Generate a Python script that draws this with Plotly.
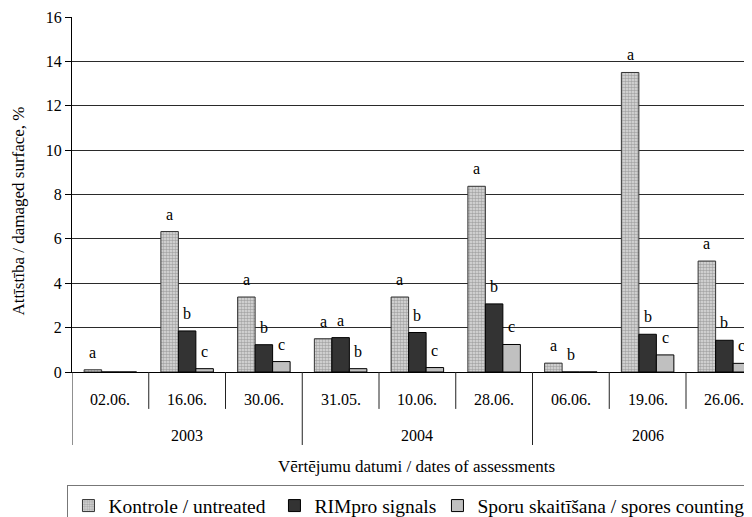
import plotly.graph_objects as go

dates = ["02.06.", "16.06.", "30.06.", "31.05.", "10.06.", "28.06.", "06.06.", "19.06.", "26.06."]
years = ["2003", "2004", "2006"]
dates_per_year = [3, 3, 3]
kontrole = [0.1, 6.33, 3.38, 1.5, 3.38, 8.37, 0.4, 13.5, 5.0]
rimpro = [0, 1.85, 1.23, 1.55, 1.78, 3.07, 0, 1.7, 1.43]
sporu = [0, 0.15, 0.47, 0.15, 0.2, 1.24, 0, 0.77, 0.39]
lab_k = ["a", "a", "a", "a", "a", "a", "a", "a", "a"]
lab_r = ["", "b", "b", "a", "b", "b", "b", "b", "b"]
lab_s = ["", "c", "c", "b", "c", "c", "", "c", "c"]
names = ["Kontrole / untreated", "RIMpro signals", "Sporu skaitīšana / spores counting"]
y_title = "Attīstība / damaged surface, %"
x_title = "Vērtējumu datumi / dates of assessments"

FONT = "Liberation Serif, Times New Roman, serif"
xs = list(range(len(dates)))
BW = 0.228

fig = go.Figure()
fig.add_trace(go.Bar(x=xs, y=kontrole, name=names[0], legendwidth=161,
                     marker=dict(color="#b0b0b0", line=dict(color="#333333", width=1),
                                 pattern=dict(shape=".", size=3, solidity=0.55, fgcolor="#6e6e6e", bgcolor="#dedede"))))
fig.add_trace(go.Bar(x=xs, y=rimpro, name=names[1], legendwidth=118,
                     marker=dict(color="#333333", line=dict(color="black", width=1))))
fig.add_trace(go.Bar(x=xs, y=sporu, name=names[2],
                     marker=dict(color="#c0c0c0", line=dict(color="black", width=1))))

ann = []
for series, labs, off in ((kontrole, lab_k, -BW), (rimpro, lab_r, 0), (sporu, lab_s, BW)):
    for i, (v, t) in enumerate(zip(series, labs)):
        if t:
            ann.append(dict(x=i + off, y=v, xref="x", yref="y", text=t, showarrow=False,
                            yanchor="bottom", yshift=7, font=dict(family=FONT, size=16, color="black")))

for i, d in enumerate(dates):
    ann.append(dict(x=i, y=-0.077, xref="x", yref="paper", text=d, showarrow=False,
                    yanchor="middle", font=dict(family=FONT, size=16, color="black")))

shapes = []
start = 0
bounds_long = [0]
for yr, n in zip(years, dates_per_year):
    ann.append(dict(x=start + (n - 1) / 2, y=-0.1775, xref="x", yref="paper", text=yr, showarrow=False,
                    yanchor="middle", font=dict(family=FONT, size=16, color="black")))
    start += n
    bounds_long.append(start)

for k in range(len(dates) + 1):
    low = -0.2056 if k in bounds_long else -0.104
    shapes.append(dict(type="line", xref="x", yref="paper", x0=k - 0.5, x1=k - 0.5, y0=0, y1=low,
                       line=dict(color="#222222", width=1)))

ann.append(dict(x=0.506, y=-0.265, xref="paper", yref="paper", text=x_title, showarrow=False,
                yanchor="middle", font=dict(family=FONT, size=17, color="black")))
ann.append(dict(x=-0.08, y=0.4535, xref="paper", yref="paper", text=y_title, showarrow=False,
                textangle=-90, xanchor="center", yanchor="middle",
                font=dict(family=FONT, size=17, color="black")))

# page body has an 8px margin; figure sized so it fills the 752x517 window
fig.update_layout(
    width=744, height=509,
    margin=dict(l=64, r=0, t=9, b=145, autoexpand=False),
    paper_bgcolor="white", plot_bgcolor="white",
    barmode="group", bargap=0.316, bargroupgap=0,
    showlegend=True,
    legend=dict(orientation="h", x=-0.0074, y=-0.318, xanchor="left", yanchor="top",
                bordercolor="#777777", borderwidth=1.5,
                font=dict(family=FONT, size=19.5, color="black"), traceorder="normal"),
    annotations=ann, shapes=shapes,
    xaxis=dict(range=[-0.5, 8.36], showticklabels=False, showgrid=False, zeroline=False,
               showline=True, linecolor="black", linewidth=1, ticks=""),
    yaxis=dict(range=[0, 16], dtick=2, tick0=0, showgrid=True, gridcolor="#2a2a2a", gridwidth=1,
               zeroline=False, showline=True, linecolor="black", linewidth=1,
               ticks="outside", ticklen=6, tickcolor="black",
               tickfont=dict(family=FONT, size=16, color="black")),
)
fig.write_html("out.html")
